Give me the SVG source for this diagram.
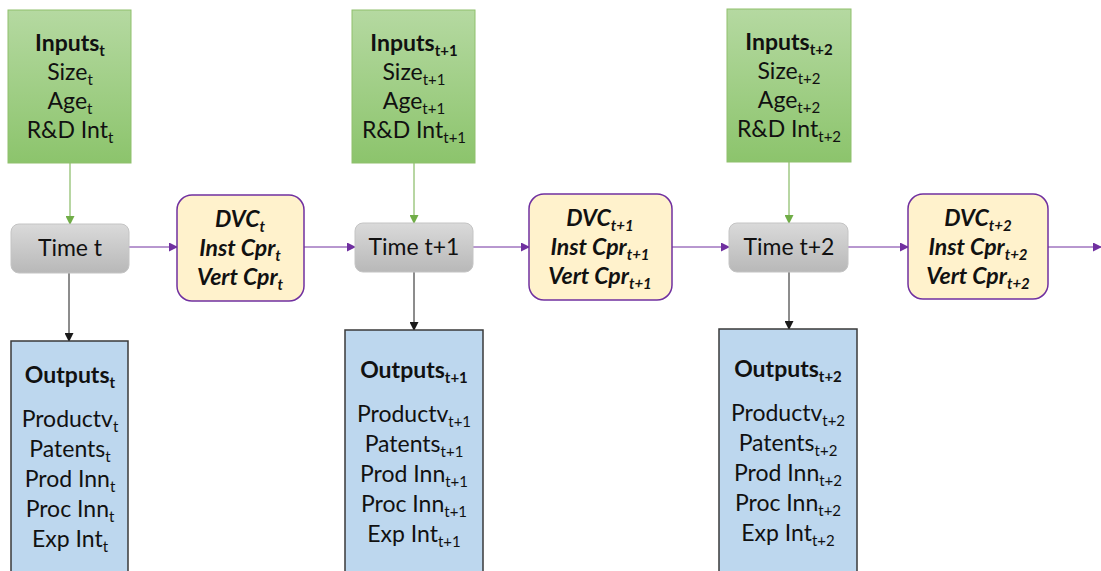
<svg xmlns="http://www.w3.org/2000/svg" width="1101" height="571" viewBox="0 0 1101 571">
<defs>
<linearGradient id="gGreen" x1="0" y1="0" x2="0" y2="1"><stop offset="0" stop-color="#b5d9a1"/><stop offset="1" stop-color="#8cc46c"/></linearGradient>
<linearGradient id="gGray" x1="0" y1="0" x2="0" y2="1"><stop offset="0" stop-color="#dadada"/><stop offset="1" stop-color="#b8b8b8"/></linearGradient>
<marker id="mGreen" markerWidth="9" markerHeight="9" refX="8" refY="4.5" orient="auto" markerUnits="userSpaceOnUse"><path d="M0,0 L9,4.5 L0,9 Z" fill="#70ad47"/></marker>
<marker id="mBlack" markerWidth="9" markerHeight="9" refX="8" refY="4.5" orient="auto" markerUnits="userSpaceOnUse"><path d="M0,0 L9,4.5 L0,9 Z" fill="#1a1a1a"/></marker>
<marker id="mPurple" markerWidth="9" markerHeight="9" refX="8" refY="4.5" orient="auto" markerUnits="userSpaceOnUse"><path d="M0,0 L9,4.5 L0,9 Z" fill="#7030a0"/></marker>
</defs>
<style>
text{font-family:Lato,"Liberation Sans",sans-serif;font-size:23px;fill:#111;text-anchor:middle}
.b{font-weight:bold}
.bi{font-weight:bold;font-style:italic}
.s{font-size:15px}
.inp{fill:url(#gGreen);stroke:#8fc06c;stroke-width:1}
.time{fill:url(#gGray);stroke:#c4c4c4;stroke-width:1}
.dvc{fill:#fff2cc;stroke:#7030a0;stroke-width:1.5}
.out{fill:#bdd7ee;stroke:#3a3a3a;stroke-width:1.5}
.cg{stroke:#70ad47;stroke-width:1;fill:none}
.ck{stroke:#1a1a1a;stroke-width:1;fill:none}
.cp{stroke:#7030a0;stroke-width:1;fill:none}
</style>
<rect width="1101" height="571" fill="#ffffff"/>
<g id="connectors">
<line class="cg" x1="70" y1="163" x2="70" y2="224" marker-end="url(#mGreen)"/>
<line class="cg" x1="414" y1="163" x2="414" y2="223" marker-end="url(#mGreen)"/>
<line class="cg" x1="789" y1="162" x2="789" y2="223" marker-end="url(#mGreen)"/>
<line class="ck" x1="69" y1="273" x2="69" y2="341" marker-end="url(#mBlack)"/>
<line class="ck" x1="414" y1="272" x2="414" y2="330" marker-end="url(#mBlack)"/>
<line class="ck" x1="789" y1="272" x2="789" y2="329" marker-end="url(#mBlack)"/>
<line class="cp" x1="129" y1="247" x2="177" y2="247" marker-end="url(#mPurple)"/>
<line class="cp" x1="304" y1="247" x2="355" y2="247" marker-end="url(#mPurple)"/>
<line class="cp" x1="473" y1="247" x2="529" y2="247" marker-end="url(#mPurple)"/>
<line class="cp" x1="672" y1="247" x2="729" y2="247" marker-end="url(#mPurple)"/>
<line class="cp" x1="848" y1="247" x2="908" y2="247" marker-end="url(#mPurple)"/>
<line class="cp" x1="1048" y1="247" x2="1101" y2="247" marker-end="url(#mPurple)"/>
</g>
<g id="inputs1">
<rect class="inp" x="8" y="10" width="123" height="153"/>
<text x="70" y="51" class="b">Inputs<tspan class="s" dy="5">t</tspan></text>
<text x="70" y="80">Size<tspan class="s" dy="5">t</tspan></text>
<text x="70" y="109">Age<tspan class="s" dy="5">t</tspan></text>
<text x="70" y="138">R&amp;D Int<tspan class="s" dy="5">t</tspan></text>
</g>
<g id="inputs2">
<rect class="inp" x="352" y="10" width="123" height="153"/>
<text x="414" y="51" class="b">Inputs<tspan class="s" dy="5">t+1</tspan></text>
<text x="414" y="80">Size<tspan class="s" dy="5">t+1</tspan></text>
<text x="414" y="109">Age<tspan class="s" dy="5">t+1</tspan></text>
<text x="414" y="138">R&amp;D Int<tspan class="s" dy="5">t+1</tspan></text>
</g>
<g id="inputs3">
<rect class="inp" x="727" y="9" width="124" height="153"/>
<text x="789" y="50" class="b">Inputs<tspan class="s" dy="5">t+2</tspan></text>
<text x="789" y="79">Size<tspan class="s" dy="5">t+2</tspan></text>
<text x="789" y="108">Age<tspan class="s" dy="5">t+2</tspan></text>
<text x="789" y="137">R&amp;D Int<tspan class="s" dy="5">t+2</tspan></text>
</g>
<g id="time1">
<rect class="time" x="11" y="224" width="118" height="49" rx="8"/>
<text x="70" y="256">Time t</text>
</g>
<g id="time2">
<rect class="time" x="355" y="223" width="118" height="49" rx="8"/>
<text x="414" y="255">Time t+1</text>
</g>
<g id="time3">
<rect class="time" x="729" y="223" width="119" height="49" rx="8"/>
<text x="789" y="255">Time t+2</text>
</g>
<g id="dvc1">
<rect class="dvc" x="177" y="195" width="127" height="106" rx="15"/>
<text x="240" y="227" class="bi">DVC<tspan class="s" dy="5">t</tspan></text>
<text x="240" y="256" class="bi">Inst Cpr<tspan class="s" dy="5">t</tspan></text>
<text x="240" y="285" class="bi">Vert Cpr<tspan class="s" dy="5">t</tspan></text>
</g>
<g id="dvc2">
<rect class="dvc" x="529" y="194" width="143" height="106" rx="15"/>
<text x="600" y="226" class="bi">DVC<tspan class="s" dy="5">t+1</tspan></text>
<text x="600" y="255" class="bi">Inst Cpr<tspan class="s" dy="5">t+1</tspan></text>
<text x="600" y="284" class="bi">Vert Cpr<tspan class="s" dy="5">t+1</tspan></text>
</g>
<g id="dvc3">
<rect class="dvc" x="908" y="194" width="140" height="105" rx="15"/>
<text x="978" y="226" class="bi">DVC<tspan class="s" dy="5">t+2</tspan></text>
<text x="978" y="255" class="bi">Inst Cpr<tspan class="s" dy="5">t+2</tspan></text>
<text x="978" y="284" class="bi">Vert Cpr<tspan class="s" dy="5">t+2</tspan></text>
</g>
<g id="outputs1">
<rect class="out" x="11" y="341" width="117" height="240"/>
<text x="70" y="383" class="b">Outputs<tspan class="s" dy="5">t</tspan></text>
<text x="70" y="427">Productv<tspan class="s" dy="5">t</tspan></text>
<text x="70" y="457">Patents<tspan class="s" dy="5">t</tspan></text>
<text x="70" y="487">Prod Inn<tspan class="s" dy="5">t</tspan></text>
<text x="70" y="517">Proc Inn<tspan class="s" dy="5">t</tspan></text>
<text x="70" y="547">Exp Int<tspan class="s" dy="5">t</tspan></text>
</g>
<g id="outputs2">
<rect class="out" x="345" y="330" width="138" height="250"/>
<text x="414" y="378" class="b">Outputs<tspan class="s" dy="5">t+1</tspan></text>
<text x="414" y="422">Productv<tspan class="s" dy="5">t+1</tspan></text>
<text x="414" y="452">Patents<tspan class="s" dy="5">t+1</tspan></text>
<text x="414" y="482">Prod Inn<tspan class="s" dy="5">t+1</tspan></text>
<text x="414" y="512">Proc Inn<tspan class="s" dy="5">t+1</tspan></text>
<text x="414" y="542">Exp Int<tspan class="s" dy="5">t+1</tspan></text>
</g>
<g id="outputs3">
<rect class="out" x="719" y="329" width="138" height="251"/>
<text x="788" y="377" class="b">Outputs<tspan class="s" dy="5">t+2</tspan></text>
<text x="788" y="421">Productv<tspan class="s" dy="5">t+2</tspan></text>
<text x="788" y="451">Patents<tspan class="s" dy="5">t+2</tspan></text>
<text x="788" y="481">Prod Inn<tspan class="s" dy="5">t+2</tspan></text>
<text x="788" y="511">Proc Inn<tspan class="s" dy="5">t+2</tspan></text>
<text x="788" y="541">Exp Int<tspan class="s" dy="5">t+2</tspan></text>
</g>
</svg>
